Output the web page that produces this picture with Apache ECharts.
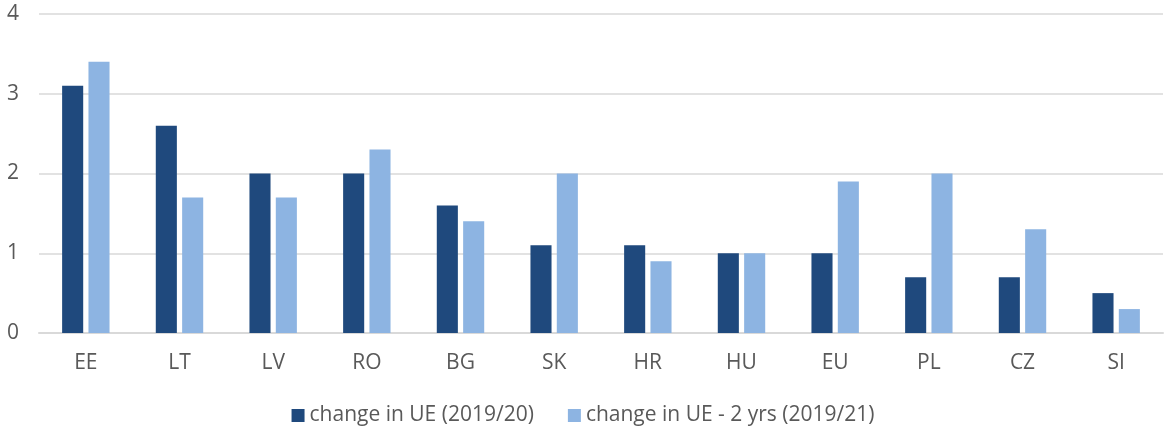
<!DOCTYPE html>
<html><head><meta charset="utf-8">
<script src="https://cdn.jsdelivr.net/npm/echarts@6/dist/echarts.min.js"></script>
<style>html,body{margin:0;padding:0;background:#fff}#c{width:1166px;height:428px}</style>
</head><body><div id="c"></div>
<script>
const categories = ['EE','LT','LV','RO','BG','SK','HR','HU','EU','PL','CZ','SI'];
const seriesNames = ['change in UE (2019/20)','change in UE - 2 yrs (2019/21)'];
const ue2020 = [3.1,2.6,2.0,2.0,1.6,1.1,1.1,1.0,1.0,0.7,0.7,0.5];
const ue2021 = [3.4,1.7,1.7,2.3,1.4,2.0,0.9,1.0,1.9,2.0,1.3,0.3];
const yTicks = [0,1,2,3,4];

const chart = echarts.init(document.getElementById('c'));
const font = '"Open Sans", "Liberation Sans", sans-serif';
chart.setOption({
  animation:false,
  textStyle:{fontFamily:font},
  grid:{left:39,right:3,top:14,bottom:95,containLabel:false},
  legend:{top:400,left:'center',itemWidth:13,itemHeight:13,itemGap:34,icon:'rect',
    textStyle:{fontSize:21,color:'#595959',fontFamily:font}},
  xAxis:{type:'category',data:categories,axisTick:{show:false},
    axisLine:{lineStyle:{color:'#D9D9D9',width:2}},
    axisLabel:{fontSize:21,color:'#595959',margin:20,fontFamily:font}},
  yAxis:{type:'value',min:yTicks[0],max:yTicks[yTicks.length-1],interval:1,
    axisLine:{show:false},axisTick:{show:false},
    splitLine:{lineStyle:{color:'#D9D9D9',width:1.5}},
    axisLabel:{fontSize:21,color:'#595959',margin:32,fontFamily:font,align:'left'}},
  series:[
    {name:seriesNames[0],type:'bar',data:ue2020,barWidth:'22.5%',barGap:'25%',itemStyle:{color:'#1F497D'}},
    {name:seriesNames[1],type:'bar',data:ue2021,barWidth:'22.5%',barGap:'25%',itemStyle:{color:'#8DB4E2'}}
  ]
});
</script></body></html>
